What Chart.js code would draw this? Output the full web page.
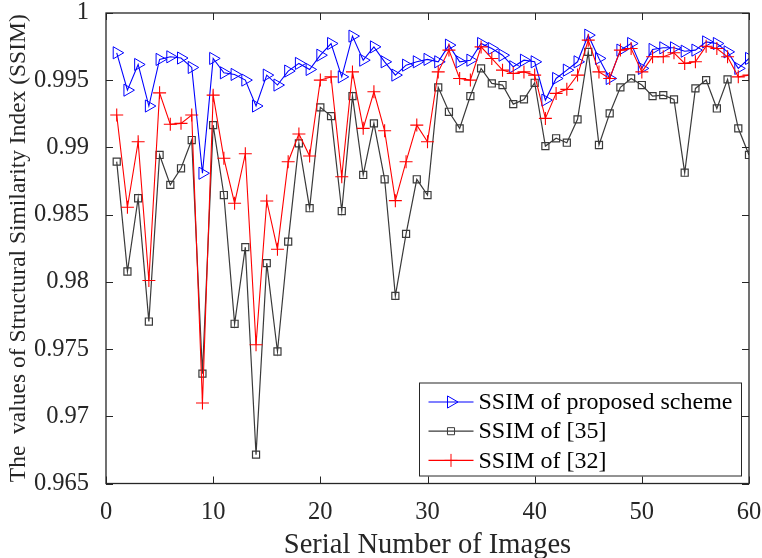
<!DOCTYPE html>
<html>
<head>
<meta charset="utf-8">
<script src="https://cdn.jsdelivr.net/npm/chart.js@4"></script>
<style>
  html, body { margin: 0; padding: 0; background: #fff; }
  #wrap { width: 762px; height: 558px; }
</style>
</head>
<body>
<div id="wrap"><canvas id="c" width="762" height="558"></canvas></div>
<script>
/* SSIM per image */
const proposedSSIM = [
  0.99704, 0.99426, 0.99617, 0.99308, 0.99655, 0.99674, 0.99665, 0.99595, 0.98808, 0.99662,
  0.99555, 0.99543, 0.99501, 0.99308, 0.99538, 0.99464, 0.99568, 0.99625, 0.99580, 0.99686,
  0.99773, 0.99525, 0.99828, 0.99649, 0.99748, 0.99637, 0.99538, 0.99612, 0.99637, 0.99655,
  0.99637, 0.99761, 0.99637, 0.99649, 0.99773, 0.99736, 0.99686, 0.99600, 0.99649, 0.99637,
  0.99352, 0.99513, 0.99575, 0.99637, 0.99835, 0.99662, 0.99513, 0.99724, 0.99773, 0.99588,
  0.99729, 0.99741, 0.99741, 0.99716, 0.99724, 0.99785, 0.99773, 0.99711, 0.99588, 0.99662
];
const ref35SSIM = [
  0.98894, 0.98077, 0.98622, 0.97705, 0.98944, 0.98721, 0.98845, 0.99055, 0.97317, 0.99166,
  0.98646, 0.97688, 0.98258, 0.96715, 0.98139, 0.97482, 0.98299, 0.99030, 0.98548, 0.99298,
  0.99233, 0.98527, 0.99382, 0.98795, 0.99179, 0.98763, 0.97896, 0.98357, 0.98763, 0.98646,
  0.99447, 0.99265, 0.99142, 0.99382, 0.99588, 0.99476, 0.99464, 0.99322, 0.99357, 0.99481,
  0.99010, 0.99068, 0.99035, 0.99209, 0.99711, 0.99018, 0.99253, 0.99447, 0.99513, 0.99464,
  0.99382, 0.99389, 0.99357, 0.98812, 0.99439, 0.99501, 0.99290, 0.99506, 0.99142, 0.98944
];
const ref32SSIM = [
  0.99241, 0.98555, 0.99042, 0.98010, 0.99406, 0.99172, 0.99179, 0.99241, 0.97099, 0.99389,
  0.98919, 0.98585, 0.98953, 0.97532, 0.98602, 0.98243, 0.98894, 0.99100, 0.98936, 0.99501,
  0.99525, 0.98782, 0.99562, 0.99142, 0.99414, 0.99124, 0.98604, 0.98894, 0.99166, 0.99042,
  0.99562, 0.99724, 0.99513, 0.99501, 0.99748, 0.99662, 0.99575, 0.99550, 0.99562, 0.99538,
  0.99216, 0.99402, 0.99432, 0.99538, 0.99798, 0.99562, 0.99513, 0.99724, 0.99736, 0.99562,
  0.99674, 0.99674, 0.99704, 0.99625, 0.99637, 0.99753, 0.99736, 0.99674, 0.99525, 0.99538
];
const seriesLabels = ['SSIM of proposed scheme', 'SSIM of [35]', 'SSIM of [32]'];
const xTitle = 'Serial Number of Images';
const yTitle = 'The  values of Structural Similarity Index (SSIM)';

const FONT = "'Liberation Serif', 'Times New Roman', serif";
const AXIS_COLOR = '#262626';

const toPoints = arr => arr.map((v, i) => ({ x: i + 1, y: v }));

/* ── boxed axes with inward ticks (MATLAB look) ─────────────────── */
const boxAxes = {
  id: 'boxAxes',
  afterDatasetsDraw(chart) {
    const { ctx, chartArea: a, scales: { x, y } } = chart;
    const tl = 7;
    ctx.save();
    ctx.strokeStyle = AXIS_COLOR;
    ctx.lineWidth = 1;
    ctx.beginPath();
    x.ticks.forEach(t => {
      const px = Math.round(x.getPixelForValue(t.value)) + 0.5;
      ctx.moveTo(px, a.bottom); ctx.lineTo(px, a.bottom - tl);
      ctx.moveTo(px, a.top); ctx.lineTo(px, a.top + tl);
    });
    y.ticks.forEach(t => {
      const py = Math.round(y.getPixelForValue(t.value)) + 0.5;
      ctx.moveTo(a.left, py); ctx.lineTo(a.left + tl, py);
      ctx.moveTo(a.right, py); ctx.lineTo(a.right - tl, py);
    });
    ctx.stroke();
    ctx.lineWidth = 1.3;
    ctx.strokeRect(a.left, a.top, a.right - a.left, a.bottom - a.top);
    ctx.restore();
  },
};

/* ── legend box in the lower right corner ───────────────────────── */
const cornerLegend = {
  id: 'cornerLegend',
  afterDraw(chart) {
    const { ctx, chartArea: a } = chart;
    const w = 322, h = 93;
    const x0 = a.right - 7.5 - w, y0 = a.bottom - 7.5 - h;
    ctx.save();
    ctx.fillStyle = '#fff';
    ctx.fillRect(x0, y0, w, h);
    ctx.strokeStyle = AXIS_COLOR;
    ctx.lineWidth = 1;
    ctx.strokeRect(x0, y0, w, h);
    chart.data.datasets.forEach((ds, i) => {
      const ry = y0 + 19 + i * 29.2;
      const lx = x0 + 9;
      ctx.strokeStyle = ds.borderColor;
      ctx.lineWidth = ds.borderWidth;
      ctx.beginPath();
      ctx.moveTo(lx, ry); ctx.lineTo(lx + 45, ry);
      ctx.stroke();
      ctx.fillStyle = 'rgba(0,0,0,0)';
      ctx.lineWidth = 1;
      Chart.helpers.drawPoint(ctx, {
        pointStyle: ds.pointStyle,
        rotation: ds.pointRotation || 0,
        radius: ds.pointRadius,
        borderWidth: 1,
      }, lx + 22.5, ry);
      ctx.fillStyle = '#000';
      ctx.font = `24px ${FONT}`;
      ctx.textAlign = 'left';
      ctx.textBaseline = 'middle';
      ctx.fillText(seriesLabels[i], lx + 50, ry + 1);
    });
    ctx.restore();
  },
};

const tickFont = { family: FONT, size: 24.5 };

new Chart(document.getElementById('c'), {
  type: 'line',
  data: {
    datasets: [
      {
        label: seriesLabels[0],
        data: toPoints(proposedSSIM),
        borderColor: '#0000ff',
        borderWidth: 1.1,
        pointStyle: 'triangle',
        pointRotation: 90,
        pointRadius: 7,
        pointBorderWidth: 1,
        pointBackgroundColor: 'rgba(0,0,0,0)',
        order: 3,
      },
      {
        label: seriesLabels[1],
        data: toPoints(ref35SSIM),
        borderColor: '#3a3a3a',
        borderWidth: 1.2,
        pointStyle: 'rect',
        pointRadius: 5,
        pointBorderWidth: 1.2,
        pointBackgroundColor: 'rgba(0,0,0,0)',
        order: 2,
      },
      {
        label: seriesLabels[2],
        data: toPoints(ref32SSIM),
        borderColor: '#ff0000',
        borderWidth: 1.1,
        pointStyle: 'cross',
        pointRadius: 6.5,
        pointBorderWidth: 1.1,
        order: 1,
      },
    ],
  },
  options: {
    responsive: false,
    animation: false,
    layout: { padding: { top: 13, right: 13, left: 0, bottom: 0 } },
    elements: { line: { tension: 0, fill: false } },
    plugins: { legend: { display: false }, tooltip: { enabled: false } },
    scales: {
      x: {
        type: 'linear',
        min: 0, max: 60,
        ticks: { stepSize: 10, color: '#262626', font: tickFont, padding: 6, maxRotation: 0 },
        grid: { display: false },
        border: { display: false },
        title: {
          display: true, text: xTitle, color: '#262626',
          font: { family: FONT, size: 28.5, lineHeight: 0.8 },
          padding: { top: 0, bottom: 1 },
        },
        afterFit(s) { s.height = 74.5; s.paddingLeft = 0; s.paddingRight = 0; },
      },
      y: {
        min: 0.965, max: 1,
        ticks: {
          stepSize: 0.005, color: '#262626', font: tickFont, padding: 9,
          callback: v => String(+v.toFixed(3)),
        },
        grid: { display: false },
        border: { display: false },
        title: {
          display: true, text: yTitle, color: '#262626',
          font: { family: FONT, size: 23.5, lineHeight: 1 },
          padding: { top: 7, bottom: 0 },
        },
        afterFit(s) { s.width = 106; s.paddingTop = 0; s.paddingBottom = 0; },
      },
    },
  },
  plugins: [boxAxes, cornerLegend],
});
</script>
</body>
</html>
